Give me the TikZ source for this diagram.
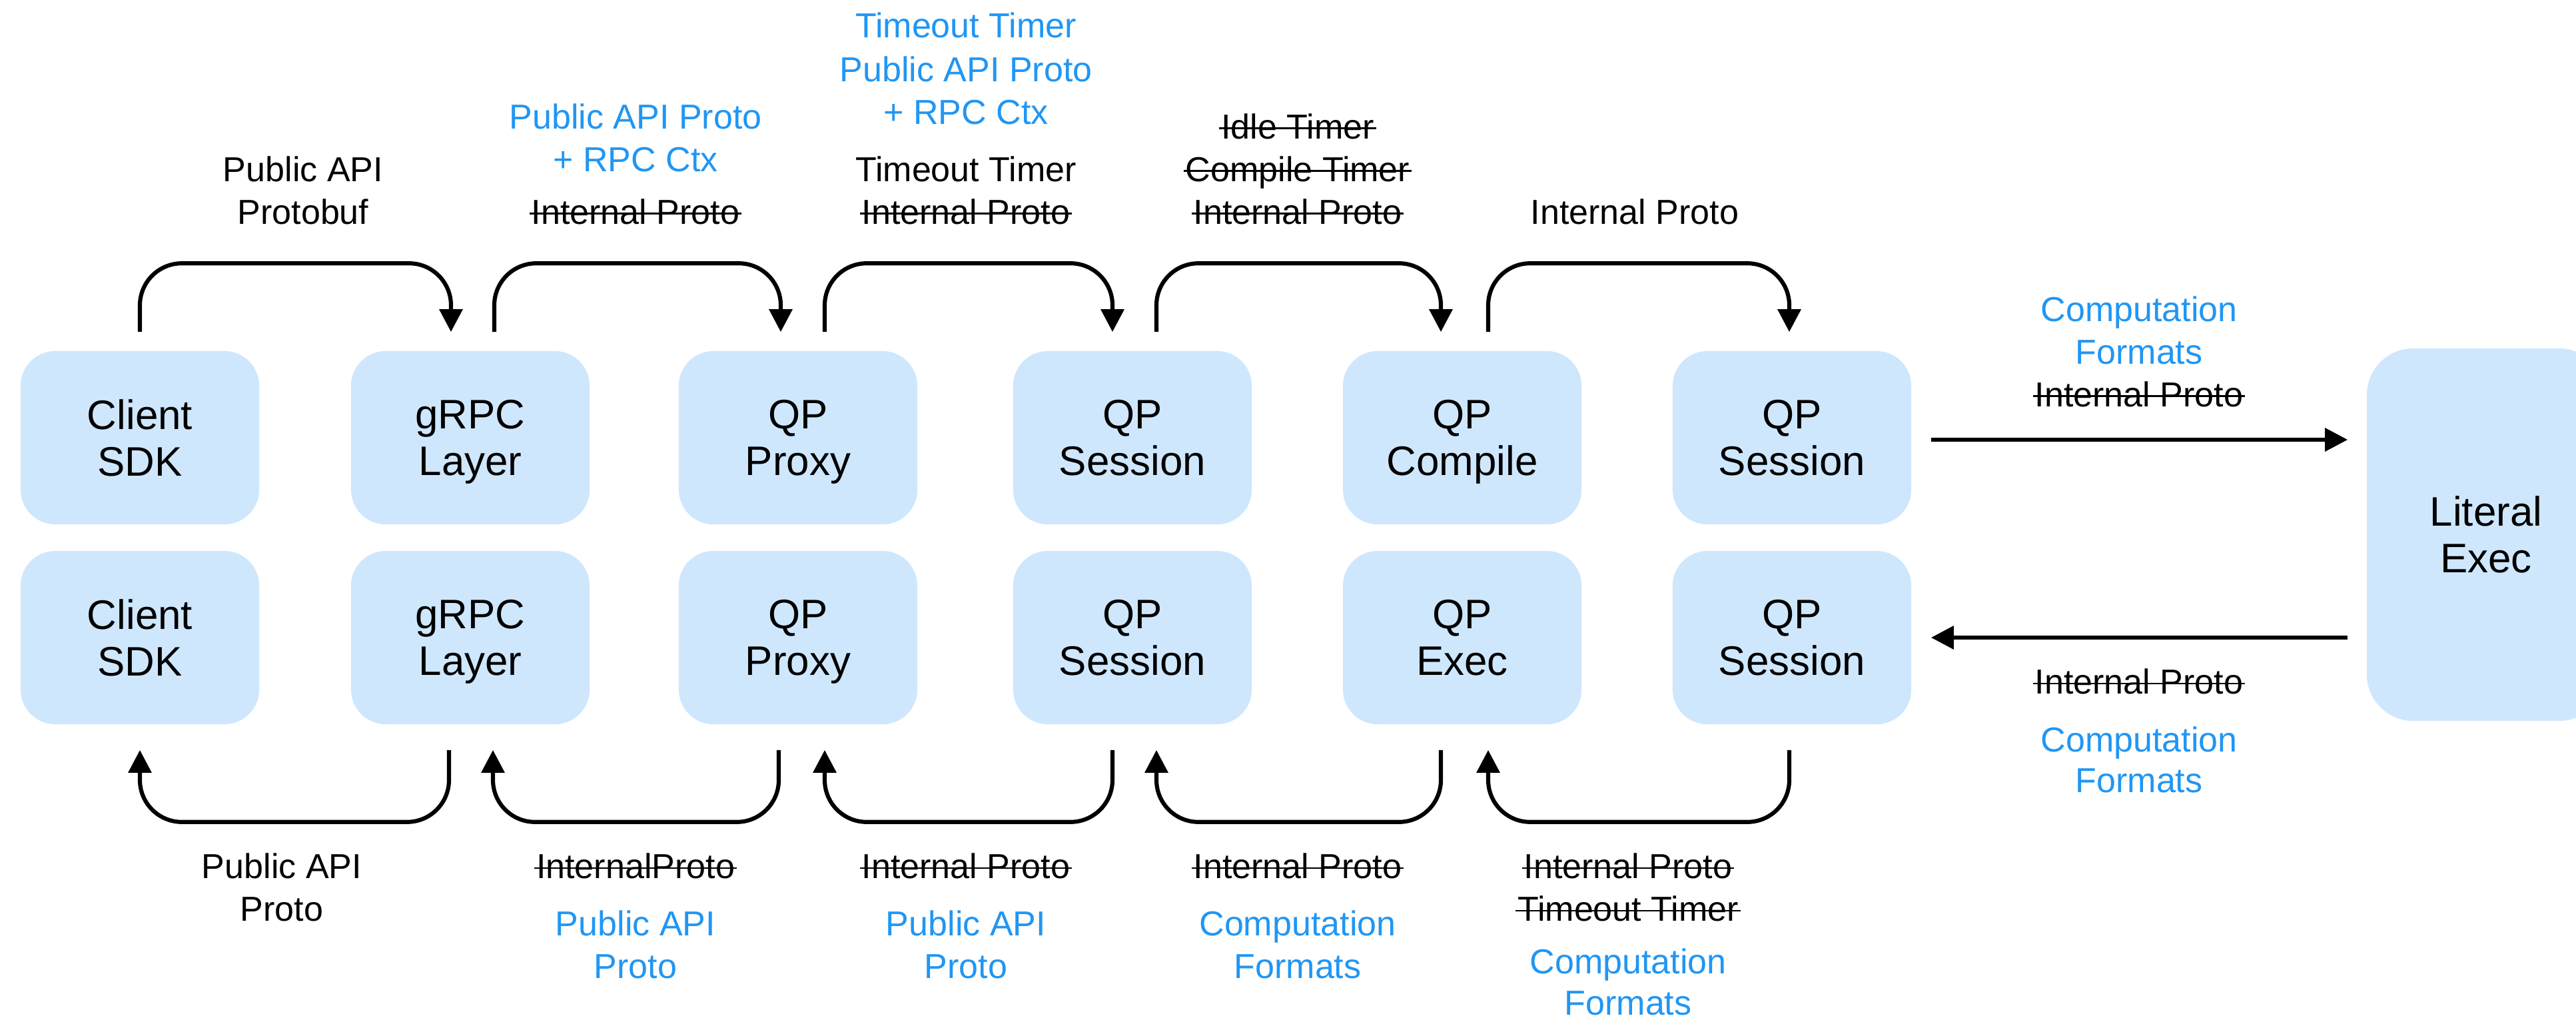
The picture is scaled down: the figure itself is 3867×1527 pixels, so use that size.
\documentclass[tikz,border=0pt]{standalone}
\usepackage{fontspec}
\setmainfont{Liberation Sans}
\usetikzlibrary{arrows.meta,calc}
\definecolor{boxfill}{RGB}{207,231,253}
\definecolor{qblue}{RGB}{33,150,243}
\newcommand{\boxfont}{\fontsize{17.6pt}{19.9pt}\selectfont}
\newcommand{\lblfont}{\fontsize{14.8pt}{18.2pt}\selectfont}
\newcommand{\strk}[1]{{\setbox0=\hbox{#1}\rlap{\kern-0.06em\rule[0.27em]{\dimexpr\wd0+0.12em\relax}{0.7pt}}\box0}}
\begin{document}
\begin{tikzpicture}[x=0.01cm,y=-0.01cm,
  stage/.style={fill=boxfill, draw=none, rounded corners=0.52cm, minimum width=3.58cm,
    minimum height=2.6cm, inner sep=0pt, align=center, font=\boxfont, text depth=0pt},
  conn/.style={line width=1.75pt, rounded corners=0.63cm, -{Triangle[length=0.34cm,width=0.34cm]}},
  harrow/.style={line width=1.8pt, -{Triangle[length=0.34cm,width=0.34cm]}},
  lbl/.style={anchor=base, font=\lblfont, inner sep=0pt},
  blbl/.style={lbl, text=qblue}]
\useasboundingbox (0,0) rectangle (3867,1527);
\clip (0,0) rectangle (3867,1527);

% top row
\node[stage] (c1) at (210,657) {Client\\SDK};
\node[stage] (g1) at (706,657) {gRPC\\Layer};
\node[stage] (p1) at (1198,657) {QP\\Proxy};
\node[stage] (s1) at (1700,657) {QP\\Session};
\node[stage] (k1) at (2195,657) {QP\\Compile};
\node[stage] (q1) at (2690,657) {QP\\Session};
% bottom row
\node[stage] (c2) at (210,957) {Client\\SDK};
\node[stage] (g2) at (706,957) {gRPC\\Layer};
\node[stage] (p2) at (1198,957) {QP\\Proxy};
\node[stage] (s2) at (1700,957) {QP\\Session};
\node[stage] (x2) at (2195,957) {QP\\Exec};
\node[stage] (q2) at (2690,957) {QP\\Session};
% literal exec
\node[stage, minimum height=5.59cm, rounded corners=0.7cm] (lit) at (3732,802.5) {Literal\\Exec};

% top connectors
\draw[conn] ($(c1.north)+(0,-28)$) -- ++(0,-103) -| ($(g1.north)+(-29,-28)$);
\draw[conn] ($(g1.north)+(36,-28)$) -- ++(0,-103) -| ($(p1.north)+(-26,-28)$);
\draw[conn] ($(p1.north)+(40,-28)$) -- ++(0,-103) -| ($(s1.north)+(-30,-28)$);
\draw[conn] ($(s1.north)+(36,-28)$) -- ++(0,-103) -| ($(k1.north)+(-32,-28)$);
\draw[conn] ($(k1.north)+(39,-28)$) -- ++(0,-103) -| ($(q1.north)+(-4,-28)$);
% bottom connectors
\draw[conn] ($(g2.south)+(-32,38)$) -- ++(0,108) -| ($(c2.south)+(0,38)$);
\draw[conn] ($(p2.south)+(-29,38)$) -- ++(0,108) -| ($(g2.south)+(34,38)$);
\draw[conn] ($(s2.south)+(-30,38)$) -- ++(0,108) -| ($(p2.south)+(40,38)$);
\draw[conn] ($(x2.south)+(-32,38)$) -- ++(0,108) -| ($(s2.south)+(36,38)$);
\draw[conn] ($(q2.south)+(-4,38)$) -- ++(0,108) -| ($(x2.south)+(39,38)$);
% horizontal arrows
\draw[harrow] ($(q1.east)+(29,3)$) -- ($(lit.west |- q1.east)+(-28,3)$);
\draw[harrow] ($(lit.west |- q2.east)+(-28,0)$) -- ($(q2.east)+(29,0)$);

% top labels
\node[lbl] (t1a) at (455,272) {Public API};
\node[lbl] (t1b) at (455,336) {Protobuf};
\node[blbl] (t2a) at (954,193) {Public API Proto};
\node[blbl] (t2b) at (954,257) {+ RPC Ctx};
\node[lbl] (t2c) at (954,336) {\strk{Internal Proto}};
\node[blbl] (t3a) at (1450,57) {Timeout Timer};
\node[blbl] (t3b) at (1450,122) {Public API Proto};
\node[blbl] (t3c) at (1450,186) {+ RPC Ctx};
\node[lbl] (t3d) at (1450,272) {Timeout Timer};
\node[lbl] (t3e) at (1450,336) {\strk{Internal Proto}};
\node[lbl] (t4a) at (1948,208) {\strk{Idle Timer}};
\node[lbl] (t4b) at (1948,272) {\strk{Compile Timer}};
\node[lbl] (t4c) at (1948,336) {\strk{Internal Proto}};
\node[lbl] (t5a) at (2454,336) {Internal Proto};
% right labels
\node[blbl] (r1a) at (3211,482) {Computation};
\node[blbl] (r1b) at (3211,546) {Formats};
\node[lbl] (r1c) at (3211,610) {\strk{Internal Proto}};
\node[lbl] (r2a) at (3211,1041) {\strk{Internal Proto}};
\node[blbl] (r2b) at (3211,1128) {Computation};
\node[blbl] (r2c) at (3211,1189) {Formats};
% bottom labels
\node[lbl] (b1a) at (423,1318) {Public API};
\node[lbl] (b1b) at (423,1382) {Proto};
\node[lbl] (b2a) at (954,1318) {\strk{InternalProto}};
\node[blbl] (b2b) at (954,1404) {Public API};
\node[blbl] (b2c) at (954,1468) {Proto};
\node[lbl] (b3a) at (1450,1318) {\strk{Internal Proto}};
\node[blbl] (b3b) at (1450,1404) {Public API};
\node[blbl] (b3c) at (1450,1468) {Proto};
\node[lbl] (b4a) at (1948,1318) {\strk{Internal Proto}};
\node[blbl] (b4b) at (1948,1404) {Computation};
\node[blbl] (b4c) at (1948,1468) {Formats};
\node[lbl] (b5a) at (2444,1318) {\strk{Internal Proto}};
\node[lbl] (b5b) at (2444,1382) {\strk{Timeout Timer}};
\node[blbl] (b5c) at (2444,1461) {Computation};
\node[blbl] (b5d) at (2444,1523) {Formats};
\end{tikzpicture}
\end{document}
